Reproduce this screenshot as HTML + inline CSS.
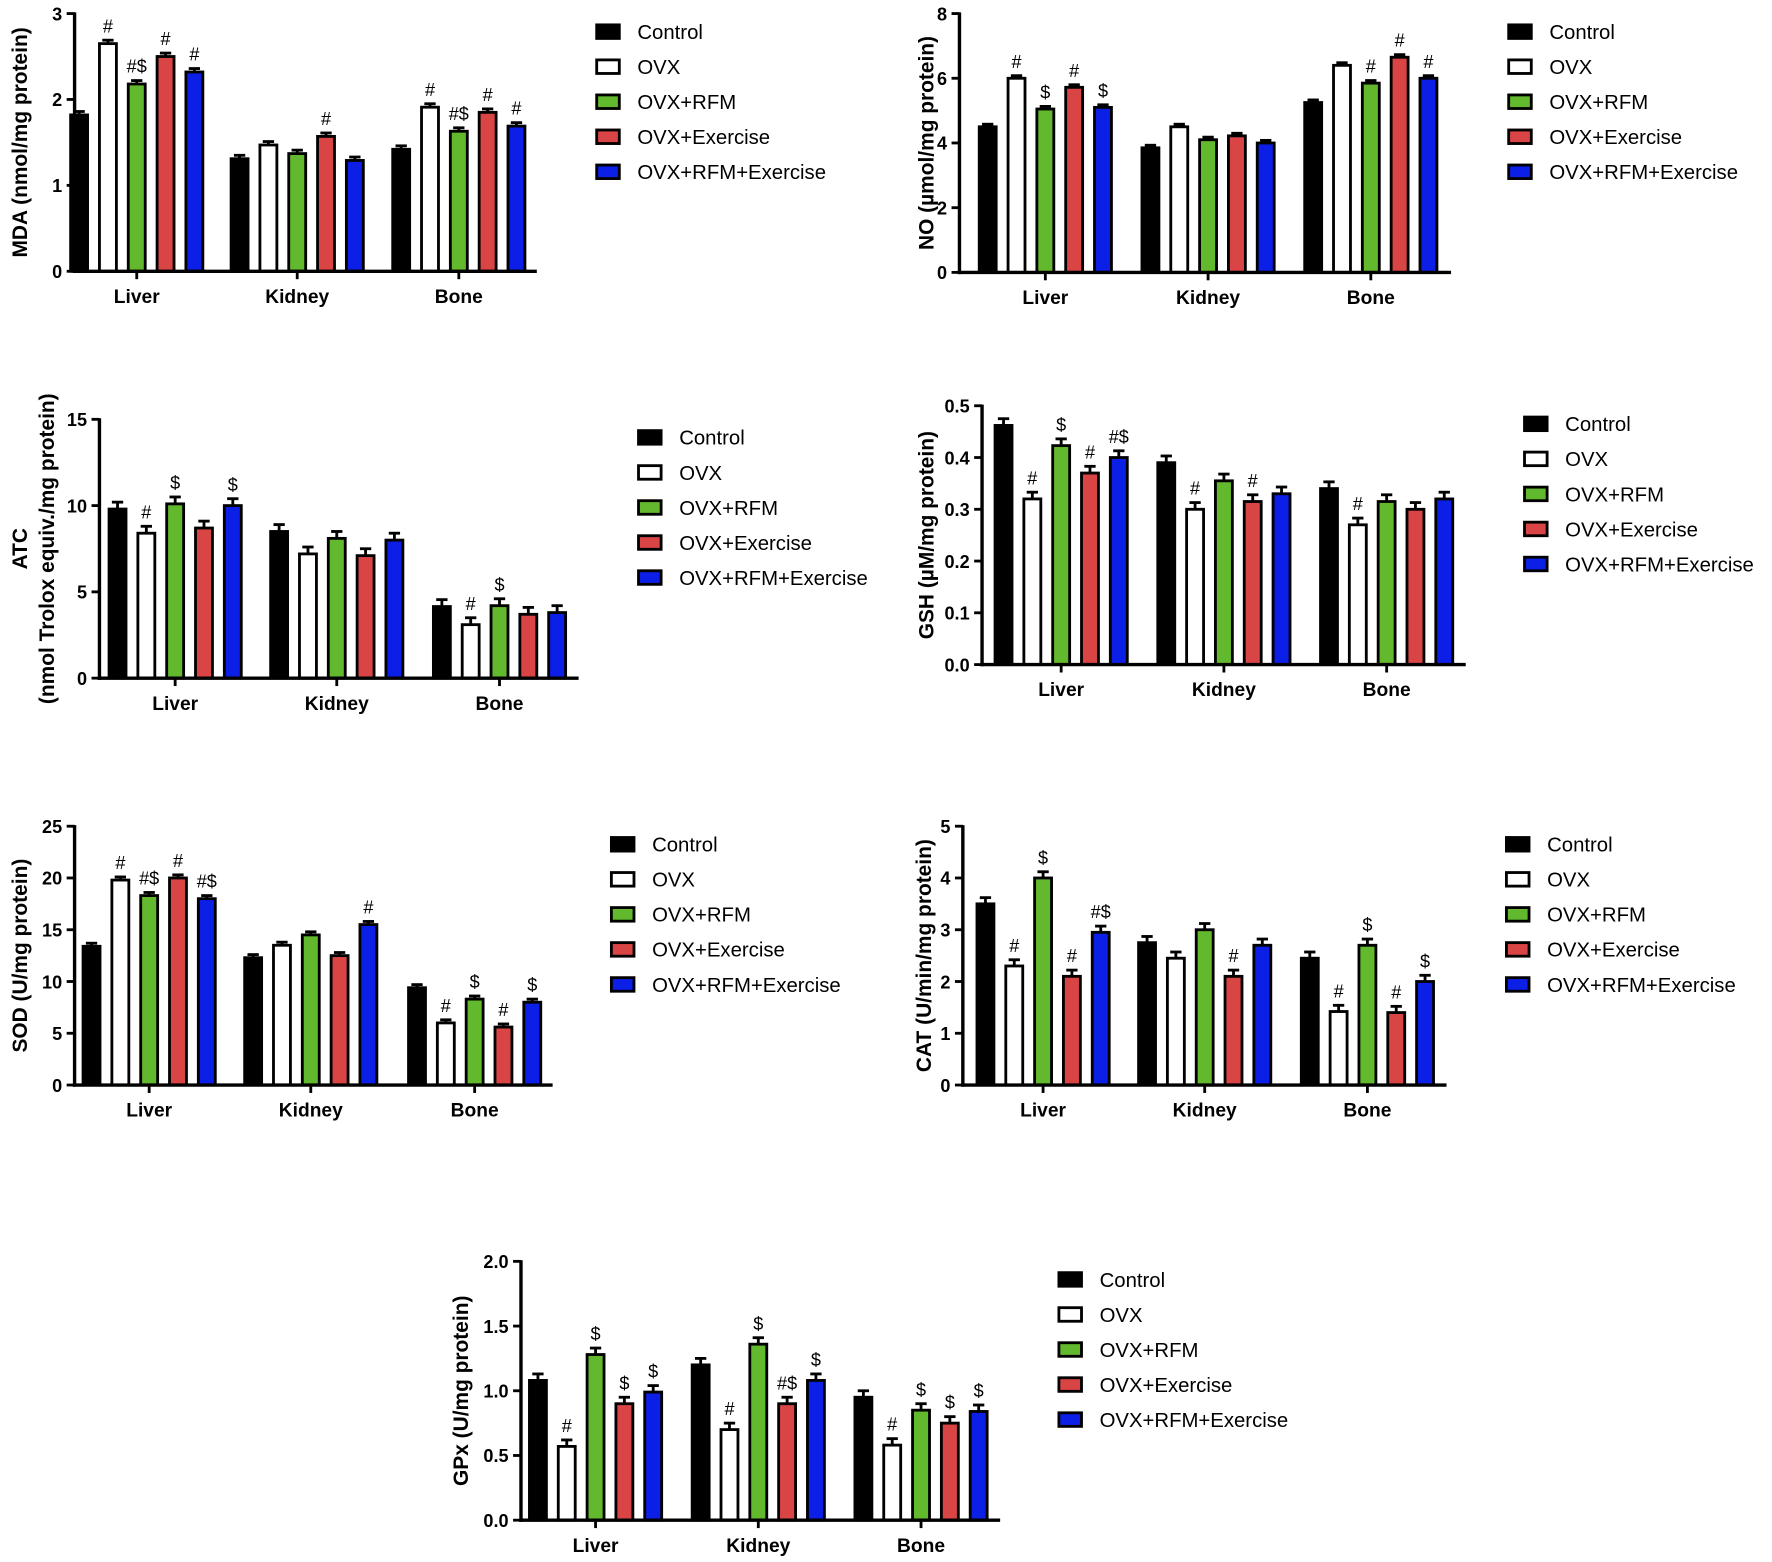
<!DOCTYPE html>
<html><head><meta charset="utf-8"><style>html,body{margin:0;padding:0;background:#fff;}svg{display:block}</style></head>
<body>
<svg id="s" xmlns="http://www.w3.org/2000/svg" width="1772" height="1562" viewBox="0 0 1568 1382" preserveAspectRatio="none" font-family="Liberation Sans, Arial, sans-serif"></svg>
<script>
const C=["#000","#fff","#62b92e","#d94444","#0b1fe6"];
const N=["Control","OVX","OVX+RFM","OVX+Exercise","OVX+RFM+Exercise"];
const charts=[
{x0:66,x1:475,y0:240,yt:12,max:3,step:1,dec:0,cx:[121,263,406],lx:527,ly:28,lab:["MDA (nmol/mg protein)"],labx:[17],
v:[[1.82,2.65,2.18,2.5,2.32],[1.31,1.47,1.37,1.57,1.29],[1.42,1.91,1.63,1.85,1.69]],e:.04,
a:[["","#","#$","#","#"],["","","","#",""],["","#","#$","#","#"]]},
{x0:849,x1:1284,y0:241,yt:12,max:8,step:2,dec:0,cx:[925,1069,1213],lx:1334,ly:28,lab:["NO (\u00b5mol/mg protein)"],labx:[819],
v:[[4.5,6.0,5.05,5.72,5.1],[3.85,4.5,4.1,4.22,4.0],[5.25,6.4,5.85,6.65,6.0]],e:.08,
a:[["","#","$","#","$"],["","","","",""],["","","#","#","#"]]},
{x0:88,x1:512,y0:600,yt:371,max:15,step:5,dec:0,cx:[155,298,442],lx:564,ly:387,lab:["ATC","(nmol Trolox equiv./mg protein)"],labx:[17,41],
v:[[9.8,8.4,10.1,8.7,10.0],[8.5,7.2,8.1,7.1,8.0],[4.15,3.1,4.2,3.7,3.8]],e:.4,
a:[["","#","$","","$"],["","","","",""],["","#","$","",""]]},
{x0:869,x1:1297,y0:588,yt:359,max:.5,step:.1,dec:1,cx:[939,1083,1227],lx:1348,ly:375,lab:["GSH (\u00b5M/mg protein)"],labx:[819],
v:[[.462,.32,.423,.37,.40],[.39,.30,.355,.315,.33],[.34,.27,.315,.30,.32]],e:.013,
a:[["","#","$","#","#$"],["","#","","#",""],["","#","","",""]]},
{x0:66,x1:489,y0:960,yt:731,max:25,step:5,dec:0,cx:[132,275,420],lx:540,ly:747,lab:["SOD (U/mg protein)"],labx:[17],
v:[[13.4,19.8,18.3,20.0,18.0],[12.3,13.5,14.5,12.5,15.5],[9.4,6.0,8.3,5.6,8.0]],e:.3,
a:[["","#","#$","#","#$"],["","","","","#"],["","#","$","#","$"]]},
{x0:852,x1:1280,y0:960,yt:731,max:5,step:1,dec:0,cx:[923,1066,1210],lx:1332,ly:747,lab:["CAT (U/min/mg protein)"],labx:[817],
v:[[3.5,2.3,4.0,2.1,2.95],[2.75,2.45,3.0,2.1,2.7],[2.45,1.42,2.7,1.4,2.0]],e:.12,
a:[["","#","$","#","#$"],["","","","#",""],["","#","$","#","$"]]},
{x0:461,x1:885,y0:1345,yt:1116,max:2,step:.5,dec:1,cx:[527,671,815],lx:936,ly:1132,lab:["GPx (U/mg protein)"],labx:[407],
v:[[1.08,.57,1.28,.9,.99],[1.2,.7,1.36,.9,1.08],[.95,.58,.85,.75,.84]],e:.05,
a:[["","#","$","$","$"],["","#","$","#$","$"],["","#","$","$","$"]]}
];
let h="";
const G=["Liver","Kidney","Bone"];
for(const c of charts){
 const sc=(c.y0-c.yt)/c.max, Y=v=>c.y0-v*sc;
 c.cx.forEach((cx,g)=>{
  for(let i=0;i<5;i++){
   const bx=cx+(i-2)*25.5, v=c.v[g][i], y=Y(v), ey=Y(v+c.e);
   h+=`<line x1="${bx}" y1="${y}" x2="${bx}" y2="${ey}" stroke="#000" stroke-width="2.5"/>`;
   h+=`<line x1="${bx-5}" y1="${ey}" x2="${bx+5}" y2="${ey}" stroke="#000" stroke-width="2.5"/>`;
   h+=`<rect x="${bx-7.5}" y="${y}" width="15" height="${c.y0-y}" fill="${C[i]}" stroke="#000" stroke-width="2.5"/>`;
   if(c.a[g][i]) h+=`<text x="${bx}" y="${ey-7}" font-size="16" text-anchor="middle">${c.a[g][i]}</text>`;
  }
  h+=`<line x1="${cx}" y1="${c.y0}" x2="${cx}" y2="${c.y0+7}" stroke="#000" stroke-width="2.5"/>`;
  h+=`<text x="${cx}" y="${c.y0+28}" font-size="17" font-weight="bold" text-anchor="middle">${G[g]}</text>`;
 });
 h+=`<line x1="${c.x0}" y1="${c.yt-1}" x2="${c.x0}" y2="${c.y0+1.5}" stroke="#000" stroke-width="3"/>`;
 h+=`<line x1="${c.x0-1.5}" y1="${c.y0}" x2="${c.x1}" y2="${c.y0}" stroke="#000" stroke-width="3"/>`;
 for(let t=0;t<=c.max+1e-9;t+=c.step){
  const y=Y(t);
  h+=`<line x1="${c.x0-7}" y1="${y}" x2="${c.x0}" y2="${y}" stroke="#000" stroke-width="2.5"/>`;
  h+=`<text x="${c.x0-11}" y="${y+6}" font-size="16" font-weight="bold" text-anchor="end">${t.toFixed(c.dec)}</text>`;
 }
 const my=(c.y0+c.yt)/2;
 c.lab.forEach((l,k)=>{h+=`<text transform="translate(${c.labx[k]+7},${my}) rotate(-90)" font-size="18.5" font-weight="bold" text-anchor="middle">${l}</text>`;});
 for(let i=0;i<5;i++){
  const y=c.ly+i*31;
  h+=`<rect x="${c.lx+1}" y="${y-6}" width="20" height="12" fill="${C[i]}" stroke="#000" stroke-width="2.5"/>`;
  h+=`<text x="${c.lx+37}" y="${y+6.5}" font-size="18">${N[i]}</text>`;
 }
}
document.getElementById("s").innerHTML=h;
</script>
</body></html>
